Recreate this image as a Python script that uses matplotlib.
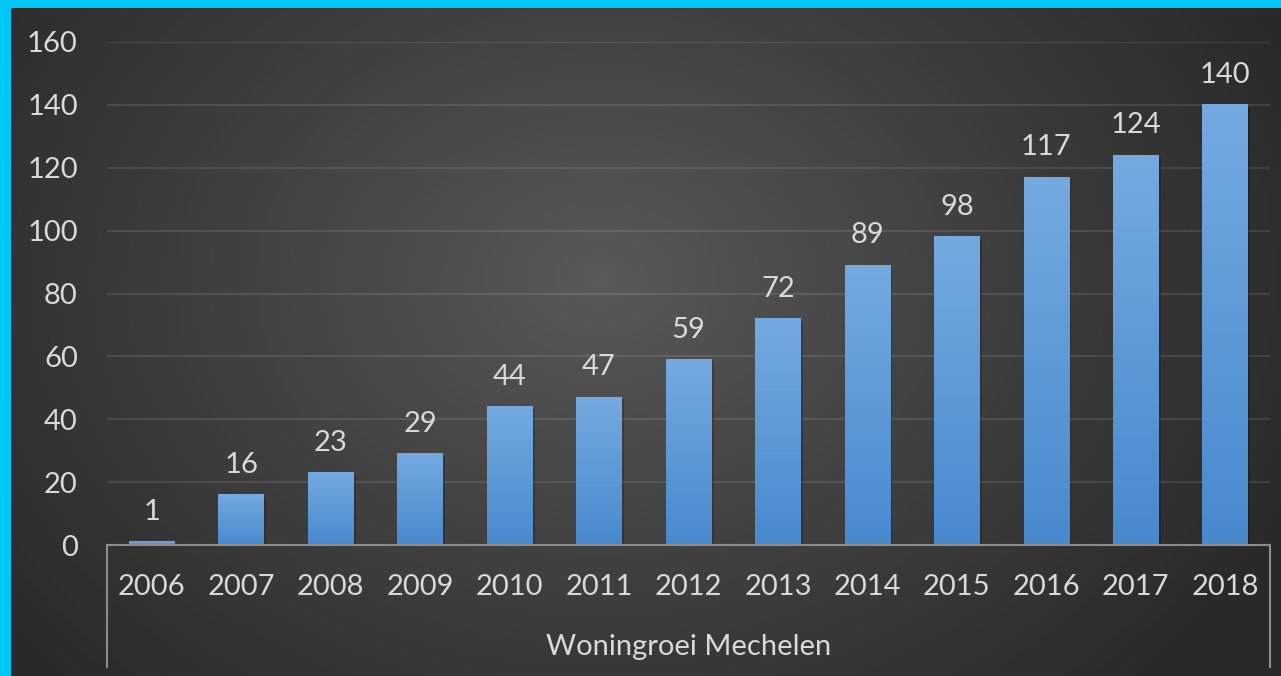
import numpy as np
import matplotlib.pyplot as plt
from matplotlib.colors import LinearSegmentedColormap

# données
annees = ['2006', '2007', '2008', '2009', '2010', '2011', '2012',
          '2013', '2014', '2015', '2016', '2017', '2018']
woningen = [1, 16, 23, 29, 44, 47, 59, 72, 89, 98, 117, 124, 140]
groupe = 'Woningroei Mechelen'
yticks = [0, 20, 40, 60, 80, 100, 120, 140, 160]

plt.rcParams['font.family'] = ['Lato', 'DejaVu Sans']
txt = '#d9d9d9'
W, H = 1281, 676
fs = 21

fig = plt.figure(figsize=(W / 100, H / 100), dpi=100)

# fond en dégradé radial
bg = fig.add_axes([0, 0, 1, 1])
yy, xx = np.mgrid[0:H, 0:W]
r = np.sqrt((xx - 600) ** 2 + ((yy - 280) * 1.3) ** 2) / 760
r = np.clip(r, 0, 1)
lum = 0x5a / 255 - (0x5a - 0x29) / 255 * r ** 0.9
img = np.dstack([lum, lum, lum])
bg.imshow(img, aspect='auto', extent=[0, W, H, 0])
bg.set_xlim(0, W)
bg.set_ylim(H, 0)
bg.axis('off')

# bordure cyan
cyan = '#00c6f6'
bg.add_patch(plt.Rectangle((0, 0), W, 8, color=cyan, lw=0))
bg.add_patch(plt.Rectangle((0, 0), 11, H, color=cyan, lw=0))

# zone du graphique
x0, x1 = 107, 1270
ybas, yhaut = 545, 42
ax = fig.add_axes([x0 / W, 1 - ybas / H, (x1 - x0) / W, (ybas - yhaut) / H])
ax.patch.set_alpha(0)
n = len(annees)

cmap = LinearSegmentedColormap.from_list('barre', ['#4889ce', '#74aae0'])
grad = np.linspace(0, 1, 256).reshape(-1, 1)
larg = 0.51
for i, v in enumerate(woningen):
    # ombre légère
    ax.add_patch(plt.Rectangle((i - larg / 2 + 0.025, 0), larg, v - 0.6,
                               color='black', alpha=0.2, lw=0, zorder=2))
    ax.imshow(grad, cmap=cmap, origin='lower', aspect='auto',
              extent=[i - larg / 2, i + larg / 2, 0, v], zorder=3)
    ax.annotate(str(v), (i, v), xytext=(0, 21.5), textcoords='offset points',
                ha='center', va='center', color=txt, fontsize=fs)
ax.set_xlim(-0.5, n - 0.5)
ax.set_ylim(0, 160)

ax.set_yticks(yticks)
ax.set_yticklabels([str(t) for t in yticks])
ax.yaxis.grid(True, color='white', alpha=0.1, lw=1.5)
ax.set_axisbelow(True)
ax.tick_params(axis='y', length=0, colors=txt, labelsize=fs, pad=21)
ax.set_xticks(range(n))
ax.set_xticklabels(annees)
ax.tick_params(axis='x', length=0, colors=txt, labelsize=fs, pad=21)
for s in ['top', 'right', 'left']:
    ax.spines[s].set_visible(False)
ax.spines['bottom'].set_color('#8c8c8c')
ax.spines['bottom'].set_linewidth(1.5)
ax.spines['bottom'].set_zorder(4)

# accolade du groupe de catégories
bg.plot([x0, x0], [ybas, 667], color='#8c8c8c', lw=1.5)
bg.plot([x1, x1], [ybas, 667], color='#8c8c8c', lw=1.5)
bg.text((x0 + x1) / 2, 647, groupe, ha='center', va='center',
        color=txt, fontsize=fs)

fig.savefig('out.png', dpi=100)
